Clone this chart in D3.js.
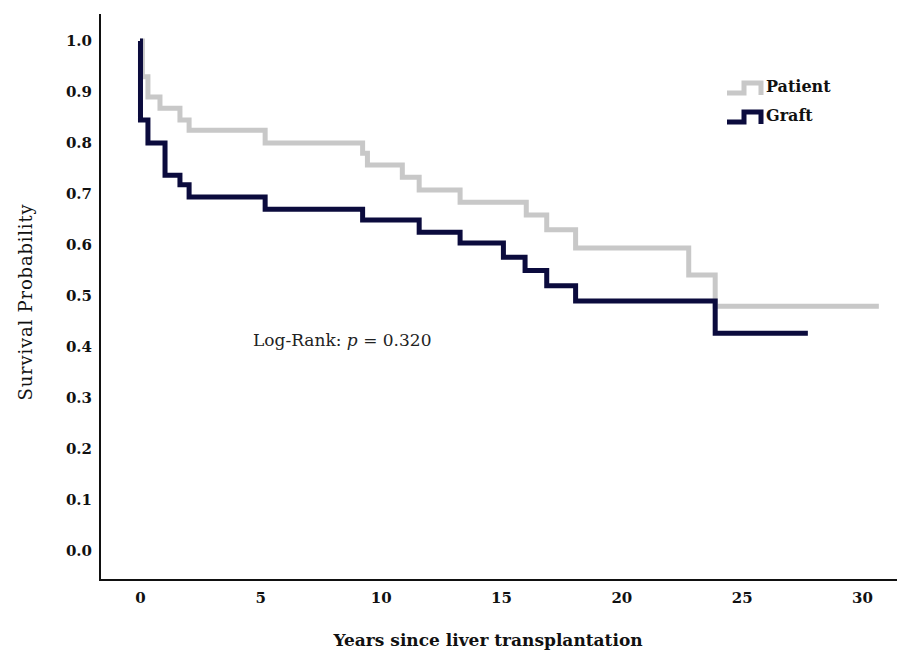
<!DOCTYPE html>
<html>
<head>
<meta charset="utf-8">
<script src="https://cdn.jsdelivr.net/npm/d3@7"></script>
<style>
  html, body { margin: 0; padding: 0; background: #fff; }
  svg { display: block; }
</style>
</head>
<body>
<svg id="chart" width="897" height="657"></svg>
<script>
// ---- Data ----
const xTicks = [0, 5, 10, 15, 20, 25, 30];
const yTicks = [0.0, 0.1, 0.2, 0.3, 0.4, 0.5, 0.6, 0.7, 0.8, 0.9, 1.0];

const patientTimes = [0, 0.1, 0.33, 0.83, 1.66, 2.04, 5.2, 9.25, 9.45, 10.9, 11.6, 13.3, 16.05, 16.9, 18.1, 22.8, 23.9, 30.7];
const patientSurv  = [1.0, 0.93, 0.89, 0.868, 0.845, 0.825, 0.80, 0.78, 0.757, 0.733, 0.708, 0.684, 0.659, 0.63, 0.594, 0.541, 0.48, 0.48];

const graftTimes = [0, 0.02, 0.33, 1.04, 1.66, 2.04, 5.2, 9.25, 11.6, 13.3, 15.1, 16.0, 16.9, 18.1, 23.9, 27.75];
const graftSurv  = [1.0, 0.845, 0.80, 0.737, 0.718, 0.694, 0.67, 0.649, 0.625, 0.604, 0.576, 0.55, 0.52, 0.49, 0.427, 0.427];

const seriesNames = ["Patient", "Graft"];
const seriesColors = ["#c8c8c8", "#0b0b3d"];

// ---- Layout ----
const svg = d3.select("#chart");
const font = "'DejaVu Serif', 'Liberation Serif', serif";

const x = d3.scaleLinear().domain([0, 30]).range([140, 862]);
const y = d3.scaleLinear().domain([0, 1]).range([551, 41]);

// axis lines
svg.append("line").attr("x1", 100).attr("x2", 100).attr("y1", 14).attr("y2", 580)
  .attr("stroke", "#111").attr("stroke-width", 2);
svg.append("line").attr("x1", 99).attr("x2", 897).attr("y1", 580).attr("y2", 580)
  .attr("stroke", "#111").attr("stroke-width", 2);

// y tick labels
const yAxis = d3.axisLeft(y).tickValues(yTicks).tickFormat(d3.format(".1f")).tickSize(0).tickPadding(0);
const gy = svg.append("g").attr("transform", "translate(92,0)").call(yAxis);
gy.select(".domain").remove();
gy.selectAll("text").attr("font-family", font).attr("font-weight", "bold")
  .attr("font-size", 15).attr("fill", "#111");

// x tick labels
const xAxis = d3.axisBottom(x).tickValues(xTicks).tickFormat(d3.format("d")).tickSize(0).tickPadding(0);
const gx = svg.append("g").attr("transform", "translate(0,592)").call(xAxis);
gx.select(".domain").remove();
gx.selectAll("text").attr("font-family", font).attr("font-weight", "bold")
  .attr("font-size", 15).attr("fill", "#111");

// axis titles
svg.append("text").attr("x", 488).attr("y", 646).attr("text-anchor", "middle")
  .attr("font-family", font).attr("font-weight", "bold").attr("font-size", 17).attr("fill", "#111")
  .text("Years since liver transplantation");
svg.append("text").attr("transform", "translate(32,302) rotate(-90)").attr("text-anchor", "middle")
  .attr("font-family", font).attr("font-size", 18).attr("letter-spacing", 0.8).attr("fill", "#111")
  .text("Survival Probability");

// curves
const line = d3.line().x(d => x(d[0])).y(d => y(d[1])).curve(d3.curveStepAfter);
const patientData = d3.zip(patientTimes, patientSurv);
const graftData = d3.zip(graftTimes, graftSurv);

svg.append("path").datum(patientData).attr("d", line).attr("fill", "none")
  .attr("stroke", seriesColors[0]).attr("stroke-width", 5);
svg.append("path").datum(graftData).attr("d", line).attr("fill", "none")
  .attr("stroke", seriesColors[1]).attr("stroke-width", 5);

// legend
const legendY = [89, 118];
seriesNames.forEach((name, i) => {
  const yy = legendY[i];
  svg.append("path")
    .attr("d", `M727,${yy + 4} H744 V${yy - 6} H761 V${yy + 6}`)
    .attr("fill", "none").attr("stroke", seriesColors[i]).attr("stroke-width", 5);
  svg.append("text").attr("x", 766).attr("y", yy + 3)
    .attr("font-family", font).attr("font-weight", "bold").attr("font-size", 16).attr("fill", "#111")
    .text(name);
});

// annotation
const ann = svg.append("text").attr("x", 253).attr("y", 346)
  .attr("font-family", font).attr("font-size", 17).attr("fill", "#222");
ann.append("tspan").text("Log-Rank: ");
ann.append("tspan").attr("font-style", "italic").text("p");
ann.append("tspan").text(" = 0.320");
</script>
</body>
</html>
